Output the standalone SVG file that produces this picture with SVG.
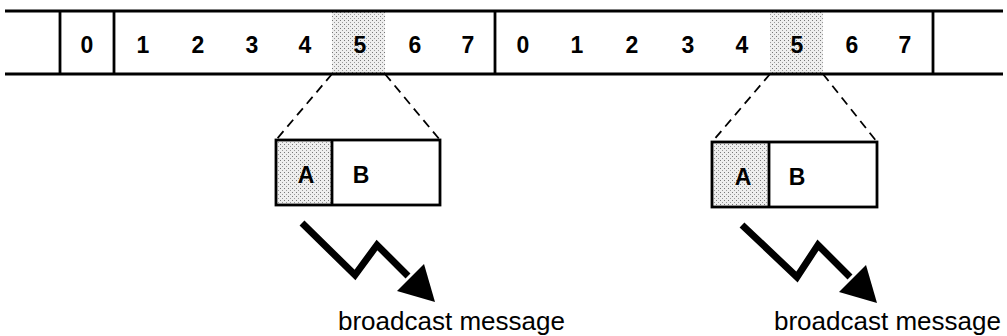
<svg xmlns="http://www.w3.org/2000/svg" width="1007" height="336" viewBox="0 0 1007 336">
<defs>
<pattern id="dots" width="4" height="4" patternUnits="userSpaceOnUse">
<rect width="4" height="4" fill="#eeeeee"/>
<rect x="0" y="0" width="1" height="1" fill="#777"/>
<rect x="2" y="2" width="1" height="1" fill="#999"/>
</pattern>
</defs>
<style>
.ln{stroke:#000;stroke-width:2.8;fill:none}
.dig{font-family:"Liberation Sans",Arial,sans-serif;font-weight:bold;font-size:23px;text-anchor:middle;fill:#000}
.lbl{font-family:"Liberation Sans",Arial,sans-serif;font-size:26px;fill:#000}
.dash{stroke:#000;stroke-width:1.8;stroke-dasharray:9,6;fill:none}
.zz{stroke:#000;stroke-width:7;fill:none;stroke-linejoin:miter}
.shade{fill:url(#dots);stroke:none}
</style>
<g id="frame-bar">
<rect class="shade" x="332" y="11" width="53" height="63"/>
<rect class="shade" x="770" y="11" width="53" height="63"/>
<line class="ln" x1="5" y1="11" x2="1003" y2="11"/>
<line class="ln" x1="5" y1="74" x2="1003" y2="74"/>
<line class="ln" x1="60" y1="11" x2="60" y2="74"/>
<line class="ln" x1="114" y1="11" x2="114" y2="74"/>
<line class="ln" x1="495" y1="11" x2="495" y2="74"/>
<line class="ln" x1="933" y1="11" x2="933" y2="74"/>
<text class="dig" x="87" y="53">0</text>
<text class="dig" x="143" y="53">1</text>
<text class="dig" x="198" y="53">2</text>
<text class="dig" x="252" y="53">3</text>
<text class="dig" x="305" y="53">4</text>
<text class="dig" x="360" y="53">5</text>
<text class="dig" x="415" y="53">6</text>
<text class="dig" x="468" y="53">7</text>
<text class="dig" x="523" y="53">0</text>
<text class="dig" x="577" y="53">1</text>
<text class="dig" x="632" y="53">2</text>
<text class="dig" x="688" y="53">3</text>
<text class="dig" x="742" y="53">4</text>
<text class="dig" x="797" y="53">5</text>
<text class="dig" x="852" y="53">6</text>
<text class="dig" x="905" y="53">7</text>
</g>
<g id="slot1">
<rect class="shade" x="276" y="140" width="56" height="65"/>
<rect class="ln" x="276" y="140" width="164" height="65"/>
<line class="ln" x1="332" y1="140" x2="332" y2="205"/>
<text class="dig" x="306" y="183">A</text>
<text class="dig" x="361" y="183">B</text>
</g>
<g id="slot2">
<rect class="shade" x="712" y="142" width="57" height="65"/>
<rect class="ln" x="712" y="142" width="165" height="65"/>
<line class="ln" x1="769" y1="142" x2="769" y2="207"/>
<text class="dig" x="743" y="185">A</text>
<text class="dig" x="797" y="185">B</text>
</g>
<g id="label1">
<text class="lbl" x="338" y="330">broadcast message</text>
</g>
<g id="label2">
<text class="lbl" x="774" y="330">broadcast message</text>
</g>
<g id="connectors">
<line class="dash" x1="332" y1="74" x2="276" y2="140"/>
<line class="dash" x1="385" y1="74" x2="440" y2="140"/>
<line class="dash" x1="770" y1="74" x2="712" y2="142"/>
<line class="dash" x1="823" y1="74" x2="877" y2="142"/>
<polyline class="zz" points="302,223 355,275 377,245 408,276"/>
<polygon points="435,302 397,291 424,264" fill="#000"/>
<polyline class="zz" points="742,225 797,277 818,245 850,277"/>
<polygon points="877,303 839,292 866,265" fill="#000"/>
</g>
</svg>
